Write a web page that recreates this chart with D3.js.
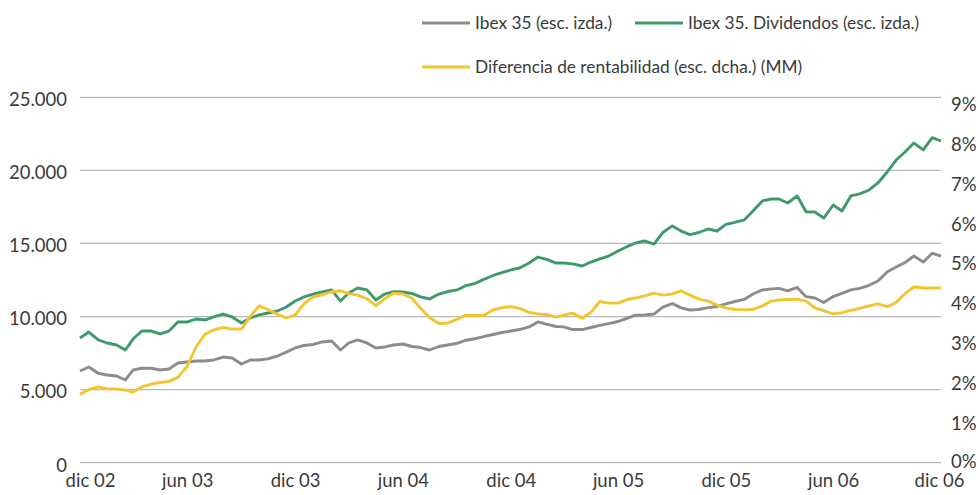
<!DOCTYPE html>
<html>
<head>
<meta charset="utf-8">
<script src="https://cdn.jsdelivr.net/npm/d3@7"></script>
<style>
  body { margin: 0; background: #fff; }
  text { font-family: Lato, "Open Sans", sans-serif; fill: #3a3a3a; }
  .tick-label { font-size: 18.5px; }
  .legend-label { font-size: 17.3px; }
  .grid { stroke: #b8b8b8; stroke-width: 1.3; }
  .serie { fill: none; stroke-width: 2.9; stroke-linejoin: round; }
</style>
</head>
<body>
<div id="svg"></div>
<script>
/* Ibex 35, Ibex 35 Dividendos y diferencia de rentabilidad
 * dic 02 - dic 06, datos quincenales
 */

let inicio = "2002-12-01", fin = "2006-12-01";

// Ibex 35 (esc. izda.)
let ibex = [
  6270, 6550, 6120, 6000, 5930, 5660, 6340, 6460, 6460, 6340,
  6410, 6820, 6890, 6960, 6960, 7030, 7230, 7160, 6750, 7030,
  7030, 7100, 7300, 7570, 7850, 8020, 8090, 8260, 8330, 7710,
  8190, 8400, 8190, 7850, 7920, 8050, 8120, 7950, 7880, 7710,
  7950, 8050, 8170, 8380, 8480, 8620, 8770, 8910, 9010, 9110,
  9290, 9630, 9460, 9320, 9290, 9110, 9110, 9250, 9390, 9520,
  9660, 9880, 10090, 10110, 10170, 10650, 10890, 10590, 10450, 10480,
  10610, 10690, 10860, 11030, 11170, 11540, 11820, 11890, 11930, 11750,
  11990, 11360, 11270, 10960, 11370, 11590, 11820, 11930, 12140, 12430,
  13070, 13390, 13700, 14140, 13730, 14330, 14140
];

// Ibex 35. Dividendos (esc. izda.)
let dividendos = [
  8530, 8940, 8400, 8190, 8050, 7710, 8460, 9010, 9010, 8810,
  9010, 9630, 9630, 9830, 9760, 9970, 10170, 9970, 9560, 9900,
  10110, 10240, 10380, 10650, 11060, 11340, 11540, 11680, 11820, 11060,
  11610, 11950, 11820, 11130, 11540, 11700, 11680, 11580, 11340, 11200,
  11540, 11710, 11820, 12120, 12260, 12540, 12810, 13010, 13190, 13320,
  13660, 14070, 13900, 13660, 13660, 13600, 13460, 13730, 13940, 14140,
  14480, 14780, 15030, 15170, 14960, 15750, 16200, 15850, 15610, 15750,
  15990, 15850, 16300, 16440, 16610, 17220, 17910, 18040, 18040, 17770,
  18250, 17170, 17150, 16740, 17630, 17220, 18250, 18390, 18660, 19140,
  19910, 20710, 21260, 21870, 21400, 22240, 22010
];

// Diferencia de rentabilidad (esc. dcha.) (MM), en %
let diferencia = [
  1.72, 1.83, 1.90, 1.85, 1.85, 1.82, 1.77, 1.90, 1.97, 2.01,
  2.04, 2.14, 2.42, 2.90, 3.22, 3.33, 3.39, 3.35, 3.35, 3.67,
  3.93, 3.84, 3.72, 3.63, 3.70, 3.98, 4.16, 4.21, 4.28, 4.31,
  4.24, 4.20, 4.11, 3.94, 4.11, 4.25, 4.23, 4.13, 3.87, 3.64,
  3.49, 3.50, 3.60, 3.70, 3.69, 3.69, 3.83, 3.89, 3.91, 3.87,
  3.77, 3.73, 3.71, 3.65, 3.70, 3.75, 3.62, 3.77, 4.04, 4.00,
  4.00, 4.09, 4.13, 4.18, 4.25, 4.20, 4.23, 4.31, 4.20, 4.10,
  4.05, 3.95, 3.88, 3.84, 3.83, 3.84, 3.93, 4.05, 4.08, 4.09,
  4.10, 4.05, 3.88, 3.81, 3.73, 3.76, 3.82, 3.87, 3.93, 3.98,
  3.91, 4.02, 4.24, 4.41, 4.38, 4.38, 4.38
];

let tickFechas = ["2002-12-01", "2003-06-01", "2003-12-01", "2004-06-01", "2004-12-01",
                  "2005-06-01", "2005-12-01", "2006-06-01", "2006-12-01"];
let tickEtiquetas = ["dic 02", "jun 03", "dic 03", "jun 04", "dic 04",
                     "jun 05", "dic 05", "jun 06", "dic 06"];
let ticksIzda = [0, 5000, 10000, 15000, 20000, 25000];
let ticksDcha = [0, 1, 2, 3, 4, 5, 6, 7, 8, 9];

let series = [
  { name: "Ibex 35 (esc. izda.)", values: ibex, color: "#8c8c8c", eje: "izda" },
  { name: "Ibex 35. Dividendos (esc. izda.)", values: dividendos, color: "#3e9a6c", eje: "izda" },
  { name: "Diferencia de rentabilidad (esc. dcha.) (MM)", values: diferencia, color: "#f2c530", eje: "dcha" }
];

function makeGraph() {
  let w = 978, h = 495;
  let parse = d3.timeParse("%Y-%m-%d");

  // fechas quincenales: dia 1 y dia 16 de cada mes
  let fechas = [];
  d3.timeMonth.range(parse(inicio), parse(fin)).forEach(m => {
    fechas.push(m);
    fechas.push(d3.timeDay.offset(m, 15));
  });
  fechas.push(parse(fin));

  let svg = d3.select("#svg")
              .append("svg")
              .attr("width", w)
              .attr("height", h);

  let x = d3.scaleTime()
            .domain([parse(inicio), parse(fin)])
            .range([80, 941]);
  let yIzda = d3.scaleLinear().domain([0, 25000]).range([462.7, 97.3]);
  let yDcha = d3.scaleLinear().domain([0, 9.16]).range([462.7, 97.3]);

  let es = d3.formatLocale({ decimal: ",", thousands: ".", grouping: [3], currency: ["", "€"] });
  let fmt = es.format(",d");

  // lineas de rejilla
  svg.append("g")
     .selectAll("line")
     .data(ticksIzda)
     .enter()
     .append("line")
     .classed("grid", true)
     .attr("x1", 80)
     .attr("x2", 941)
     .attr("y1", d => yIzda(d))
     .attr("y2", d => yIzda(d));

  // eje izquierdo
  let ejeIzda = svg.append("g")
     .attr("transform", "translate(67,0)")
     .call(d3.axisLeft(yIzda).tickValues(ticksIzda).tickFormat(fmt).tickSize(0).tickPadding(0));
  ejeIzda.select(".domain").remove();
  ejeIzda.selectAll("text").classed("tick-label", true).attr("dy", "0.45em").attr("fill", null);

  // eje derecho
  let ejeDcha = svg.append("g")
     .attr("transform", "translate(951,0)")
     .call(d3.axisRight(yDcha).tickValues(ticksDcha).tickFormat(d => d + "%").tickSize(0).tickPadding(0));
  ejeDcha.select(".domain").remove();
  ejeDcha.selectAll("text").classed("tick-label", true)
         .attr("dy", d => d === 0 ? "0.28em" : "0.36em").attr("fill", null);

  // eje x
  let ejeX = svg.append("g")
     .attr("transform", "translate(0,469)")
     .call(d3.axisBottom(x)
             .tickValues(tickFechas.map(parse))
             .tickFormat((d, i) => tickEtiquetas[i])
             .tickSize(0).tickPadding(0));
  ejeX.select(".domain").remove();
  ejeX.selectAll("text")
      .classed("tick-label", true)
      .attr("fill", null)
      .attr("dy", "0.98em")
      .attr("dx", (d, i) => i === 0 ? 10 : (i === tickFechas.length - 1 ? -2 : 0));

  // series
  series.forEach(s => {
    let y = s.eje === "izda" ? yIzda : yDcha;
    let line = d3.line()
                 .x((d, i) => x(fechas[i]))
                 .y(d => y(d));
    svg.append("path")
       .datum(s.values)
       .classed("serie", true)
       .attr("stroke", s.color)
       .attr("d", line);
  });

  // leyenda
  let leyenda = [
    { serie: series[0], x: 422, y: 23 },
    { serie: series[1], x: 635, y: 23 },
    { serie: series[2], x: 422, y: 67 }
  ];
  let lg = svg.append("g")
              .selectAll("g")
              .data(leyenda)
              .enter()
              .append("g")
              .attr("transform", d => `translate(${d.x},${d.y})`);
  lg.append("line")
    .attr("x1", 0)
    .attr("x2", 48)
    .attr("stroke", d => d.serie.color)
    .attr("stroke-width", 2.9);
  lg.append("text")
    .classed("legend-label", true)
    .attr("x", 53)
    .attr("dy", "0.36em")
    .text(d => d.serie.name);
}

window.onload = function() {
  makeGraph();
};
</script>
</body>
</html>
